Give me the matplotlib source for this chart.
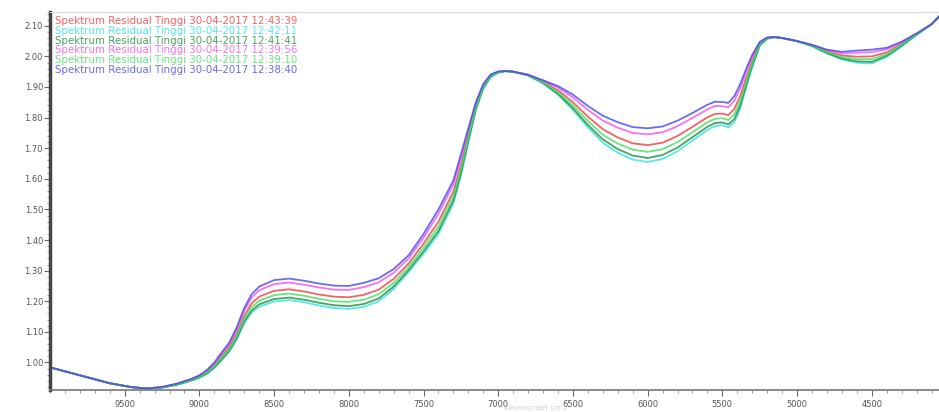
import matplotlib
matplotlib.use("Agg")
import matplotlib.pyplot as plt
from matplotlib.ticker import MultipleLocator, FormatStrFormatter

wavenumber = [10000, 9800, 9600, 9450, 9350, 9250, 9150, 9050, 9000, 8950,
              8900, 8850, 8800, 8750, 8700, 8650, 8600, 8500, 8400, 8300,
              8200, 8100, 8000, 7900, 7800, 7700, 7600, 7500, 7400, 7300,
              7250, 7200, 7150, 7100, 7050, 7000, 6950, 6900, 6800, 6700,
              6600, 6500, 6400, 6300, 6200, 6100, 6000, 5900, 5800, 5700,
              5600, 5550, 5500, 5460, 5420, 5380, 5340, 5300, 5250, 5200,
              5150, 5100, 5000, 4900, 4800, 4700, 4600, 4500, 4400, 4300,
              4200, 4100, 4050]

s_cyan = [0.984, 0.958, 0.932, 0.919, 0.915, 0.918, 0.927, 0.941, 0.950, 0.963,
          0.982, 1.008, 1.035, 1.075, 1.128, 1.163, 1.182, 1.199, 1.204, 1.197,
          1.186, 1.178, 1.175, 1.182, 1.200, 1.240, 1.295, 1.355, 1.420, 1.520,
          1.610, 1.720, 1.825, 1.895, 1.933, 1.947, 1.952, 1.950, 1.938, 1.912,
          1.875, 1.825, 1.768, 1.718, 1.685, 1.663, 1.655, 1.665, 1.690, 1.725,
          1.760, 1.772, 1.775, 1.768, 1.785, 1.830, 1.900, 1.965, 2.035, 2.058,
          2.063, 2.060, 2.050, 2.033, 2.010, 1.990, 1.979, 1.977, 1.998, 2.033,
          2.070, 2.105, 2.130]

s_dkgreen = [0.984, 0.958, 0.932, 0.919, 0.915, 0.918, 0.927, 0.942, 0.951, 0.964,
             0.984, 1.011, 1.039, 1.080, 1.134, 1.170, 1.190, 1.207, 1.212, 1.205,
             1.195, 1.187, 1.184, 1.191, 1.209, 1.248, 1.302, 1.363, 1.430, 1.529,
             1.618, 1.725, 1.828, 1.897, 1.934, 1.947, 1.952, 1.950, 1.938, 1.913,
             1.878, 1.831, 1.776, 1.729, 1.697, 1.676, 1.668, 1.678, 1.702, 1.736,
             1.770, 1.782, 1.784, 1.778, 1.795, 1.840, 1.907, 1.970, 2.036, 2.058,
             2.063, 2.060, 2.050, 2.034, 2.011, 1.993, 1.984, 1.982, 2.002, 2.035,
             2.071, 2.105, 2.130]

s_green = [0.984, 0.958, 0.932, 0.919, 0.915, 0.919, 0.928, 0.943, 0.952, 0.967,
           0.987, 1.016, 1.044, 1.087, 1.143, 1.181, 1.202, 1.220, 1.225, 1.218,
           1.208, 1.200, 1.198, 1.205, 1.223, 1.260, 1.312, 1.375, 1.444, 1.543,
           1.631, 1.734, 1.833, 1.900, 1.935, 1.948, 1.952, 1.950, 1.939, 1.915,
           1.883, 1.840, 1.789, 1.744, 1.715, 1.695, 1.688, 1.697, 1.720, 1.752,
           1.785, 1.796, 1.798, 1.792, 1.811, 1.854, 1.918, 1.977, 2.039, 2.059,
           2.063, 2.060, 2.050, 2.035, 2.014, 1.998, 1.991, 1.991, 2.007, 2.038,
           2.072, 2.105, 2.130]

s_red = [0.984, 0.958, 0.932, 0.919, 0.915, 0.919, 0.929, 0.944, 0.954, 0.969,
         0.991, 1.021, 1.050, 1.095, 1.153, 1.193, 1.215, 1.234, 1.239, 1.232,
         1.222, 1.215, 1.213, 1.221, 1.238, 1.273, 1.323, 1.388, 1.460, 1.558,
         1.645, 1.743, 1.838, 1.903, 1.937, 1.949, 1.952, 1.950, 1.939, 1.917,
         1.889, 1.850, 1.803, 1.762, 1.735, 1.716, 1.710, 1.718, 1.740, 1.770,
         1.801, 1.812, 1.813, 1.808, 1.828, 1.870, 1.930, 1.985, 2.041, 2.060,
         2.063, 2.060, 2.050, 2.036, 2.016, 2.003, 1.999, 2.000, 2.013, 2.041,
         2.073, 2.105, 2.130]

s_magenta = [0.984, 0.958, 0.932, 0.919, 0.915, 0.920, 0.930, 0.946, 0.957, 0.973,
             0.997, 1.029, 1.060, 1.108, 1.169, 1.212, 1.236, 1.256, 1.261, 1.254,
             1.245, 1.238, 1.237, 1.246, 1.262, 1.293, 1.340, 1.408, 1.486, 1.582,
             1.667, 1.757, 1.846, 1.907, 1.940, 1.950, 1.952, 1.950, 1.940, 1.920,
             1.898, 1.866, 1.825, 1.790, 1.767, 1.750, 1.745, 1.752, 1.772, 1.799,
             1.827, 1.838, 1.837, 1.834, 1.855, 1.896, 1.949, 1.998, 2.045, 2.061,
             2.063, 2.060, 2.050, 2.037, 2.020, 2.010, 2.012, 2.014, 2.023, 2.045,
             2.074, 2.105, 2.130]

s_blue = [0.984, 0.958, 0.932, 0.919, 0.915, 0.920, 0.931, 0.947, 0.958, 0.975,
          1.000, 1.033, 1.065, 1.115, 1.178, 1.223, 1.248, 1.269, 1.274, 1.267,
          1.258, 1.251, 1.250, 1.260, 1.275, 1.305, 1.350, 1.420, 1.500, 1.595,
          1.680, 1.765, 1.850, 1.910, 1.941, 1.951, 1.952, 1.950, 1.940, 1.922,
          1.903, 1.875, 1.838, 1.806, 1.785, 1.769, 1.765, 1.771, 1.790, 1.815,
          1.842, 1.852, 1.851, 1.848, 1.870, 1.910, 1.960, 2.005, 2.047, 2.062,
          2.063, 2.060, 2.050, 2.038, 2.022, 2.015, 2.019, 2.022, 2.028, 2.048,
          2.075, 2.105, 2.130]

labels = ["Spektrum Residual Tinggi 30-04-2017 12:43:39",
          "Spektrum Residual Tinggi 30-04-2017 12:42:11",
          "Spektrum Residual Tinggi 30-04-2017 12:41:41",
          "Spektrum Residual Tinggi 30-04-2017 12:39:56",
          "Spektrum Residual Tinggi 30-04-2017 12:39:10",
          "Spektrum Residual Tinggi 30-04-2017 12:38:40"]
series = [s_red, s_cyan, s_dkgreen, s_magenta, s_green, s_blue]
colors = ["#f03c3c", "#30e0e0", "#1e8c3c", "#f050f0", "#40e060", "#4646f0"]

x_ticks = [9500, 9000, 8500, 8000, 7500, 7000, 6500, 6000, 5500, 5000, 4500]
y_ticks = [1.00, 1.10, 1.20, 1.30, 1.40, 1.50, 1.60, 1.70, 1.80, 1.90, 2.00, 2.10]

fig = plt.figure(figsize=(9.39, 4.12), dpi=100)
ax = fig.add_axes([50/939, 22/412, 889/939, 378/412])

for ys, c in zip(series, colors):
    ax.plot(wavenumber, ys, color=c, lw=1.3, alpha=0.8, solid_joinstyle="round")

ax.set_xlim(10000, 4050)
ax.set_ylim(0.910, 2.145)

ax.set_xticks(x_ticks)
ax.set_yticks(y_ticks)
ax.yaxis.set_major_formatter(FormatStrFormatter("%.2f"))
ax.xaxis.set_minor_locator(MultipleLocator(100))
ax.yaxis.set_minor_locator(MultipleLocator(0.02))

ax.tick_params(axis="both", which="major", labelsize=6, labelcolor="#555555",
               color="#666666", length=4, width=0.8)
ax.tick_params(axis="both", which="minor", color="#888888", length=2, width=0.6)
ax.tick_params(axis="y", pad=1)
ax.tick_params(axis="x", pad=3)

ax.spines["left"].set_linewidth(2.5)
ax.spines["left"].set_color("#444444")
ax.spines["bottom"].set_linewidth(1.2)
ax.spines["bottom"].set_color("#777777")
ax.spines["top"].set_linewidth(0.8)
ax.spines["top"].set_color("#d8d8d8")
ax.spines["right"].set_visible(False)

for i, (lab, c) in enumerate(zip(labels, colors)):
    ax.text(0.006, 0.975 - i * 0.0255, lab, transform=ax.transAxes,
            color=c, fontsize=7.4, alpha=0.8, va="center", ha="left")

fig.text(536/939, 1/412, "Wavenumber cm-1", color="#cfcfcf", fontsize=4.8,
         ha="center", va="bottom")

fig.savefig("out.png", dpi=100)
